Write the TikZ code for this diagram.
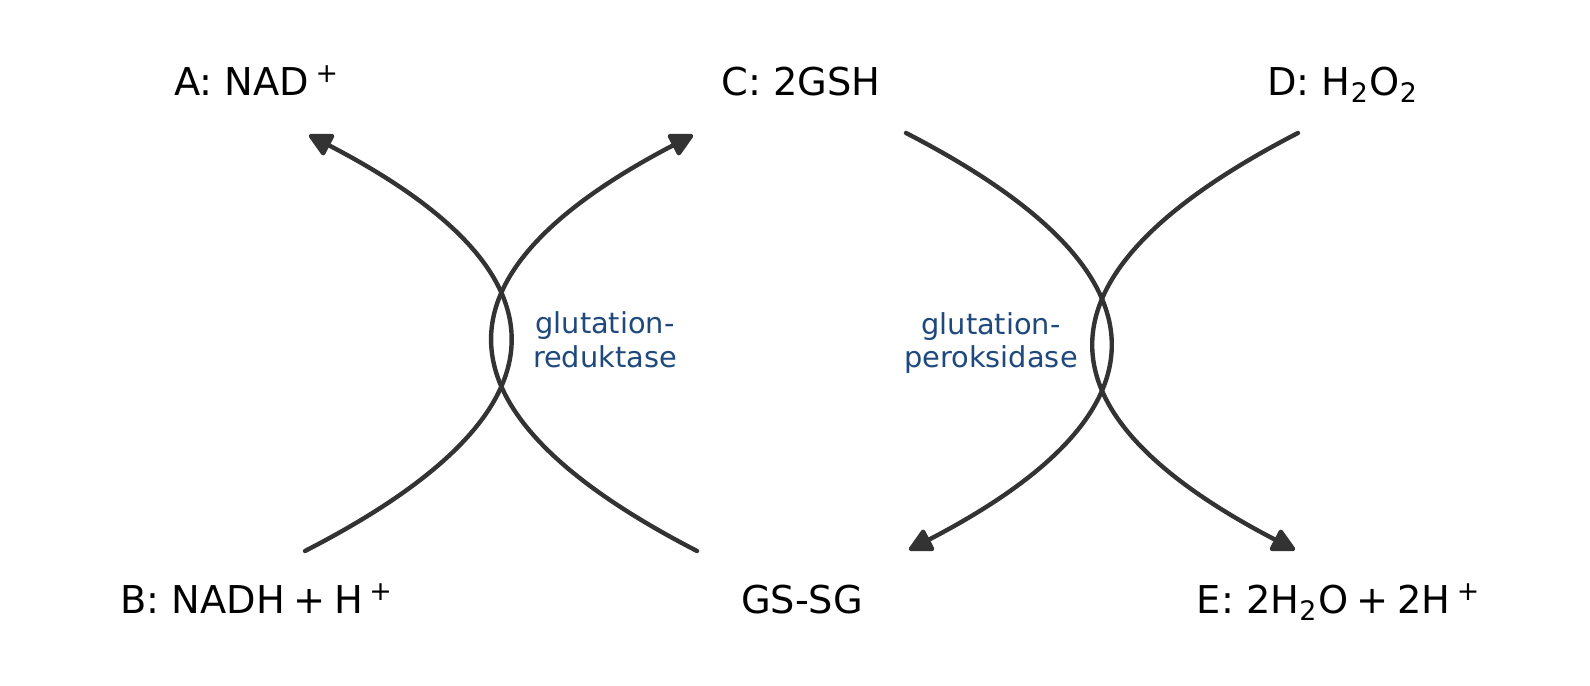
\documentclass[tikz,border=0pt]{standalone}
\usepackage{fontspec}
\setmainfont{DejaVu Sans}
\usetikzlibrary{arrows.meta}
\definecolor{arcgray}{RGB}{51,51,51}
\definecolor{enzblue}{RGB}{31,73,125}
\begin{document}
\begin{tikzpicture}[x=0.01cm, y=-0.01cm,
    lbl/.style={anchor=base, font=\fontsize{10.9}{13}\selectfont},
    enz/.style={align=center, text=enzblue, font=\fontsize{8.2}{9.6}\selectfont},
    arc/.style={draw=arcgray, line width=1.25pt, line cap=round, -{Triangle[length=7.4pt, width=7.2pt, round]}}]
                \fill[white] (0,0) rectangle (1590,686);
                \useasboundingbox (0,0) rectangle (1590,686);
                \foreach \n/\x/\y/\txt in {A/257/96/{A: NAD\,\textsuperscript{+}}, C/801/96/{C: 2GSH}, D/1343/96/{D: H\textsubscript{2}O\textsubscript{2}},
                    B/257/614/{B: NADH\hspace{0.22em}+\hspace{0.22em}H\,\textsuperscript{+}}, G/802/614/{GS-SG}, E/1339/614/{E: 2H\textsubscript{2}O\hspace{0.22em}+\hspace{0.22em}2H\,\textsuperscript{+}}}
                    \node[lbl] (\n) at (\x,\y) {\txt};
                \foreach \n/\x/\y in {b0/305/551, a0/309/135, g0/697/551, c0/693/135, c1/906/133, g1/909/550, d0/1298/133, e0/1295/550}
                    \coordinate (\n) at (\x,\y);
                \draw[arc] (b0) .. controls +(271,-139) and +(268,139) .. (a0);
                \draw[arc] (g0) .. controls +(-270,-139) and +(-267,139) .. (c0);
                \draw[arc] (c1) .. controls +(270,139) and +(268,-139) .. (g1);
                \draw[arc] (d0) .. controls +(-270,139) and +(-268,-139) .. (e0);
                \node[enz] (red) at (605,340) {glutation-\\reduktase};
                \node[enz] (per) at (991,343) {glutation-\\peroksidase};
    \end{tikzpicture}
\end{document}
